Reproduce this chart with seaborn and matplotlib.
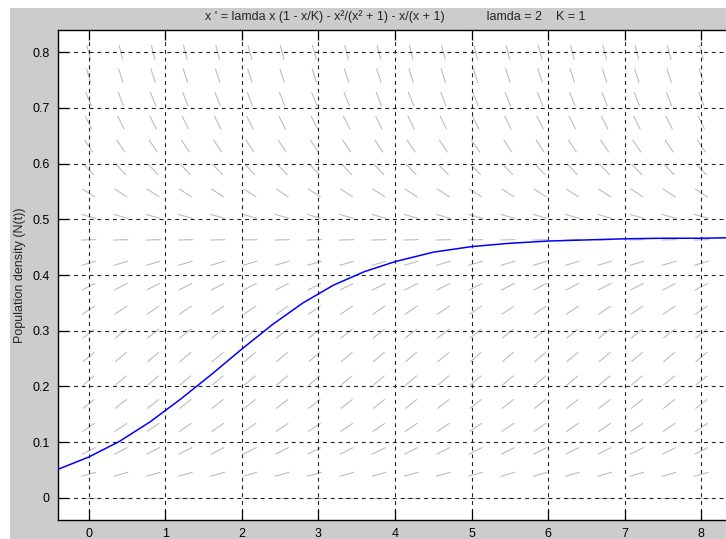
import numpy as np
import pandas as pd
import seaborn as sns
import matplotlib.pyplot as plt
from matplotlib.patches import Rectangle
from matplotlib.collections import LineCollection

# Model parameters (shown in the title)
lamda = 2.0
K = 1.0

# Direction-field window
t_window = [0.0, 8.0]
n_window = [0.0, 0.8]
grid_points = 20

# Solution curve read as (t, N) samples
sol_t = [-0.4, 0.0, 0.4, 0.8, 1.2, 1.6, 2.0, 2.4, 2.8, 3.2, 3.6, 4.0,
         4.5, 5.0, 5.5, 6.0, 6.5, 7.0, 7.5, 8.0, 8.4]
sol_n = [0.051, 0.073, 0.101, 0.136, 0.177, 0.221, 0.267, 0.311, 0.350,
         0.382, 0.406, 0.424, 0.441, 0.451, 0.457, 0.461, 0.463, 0.465,
         0.466, 0.466, 0.467]

x_ticks = [0, 1, 2, 3, 4, 5, 6, 7, 8]
y_ticks = [0, 0.1, 0.2, 0.3, 0.4, 0.5, 0.6, 0.7, 0.8]
y_tick_labels = ["0", "0.1", "0.2", "0.3", "0.4", "0.5", "0.6", "0.7", "0.8"]

title_text = ("x ' = lamda x (1 - x/K) - x\u00b2/(x\u00b2 + 1) - x/(x + 1)"
              "            lamda = 2    K = 1")
y_label = "Population density (N(t))"


def rhs(n):
    return lamda * n * (1 - n / K) - n**2 / (n**2 + 1) - n / (n + 1)


sns.set_style("ticks")
plt.rcParams["font.family"] = ["Liberation Sans", "DejaVu Sans"]

W, H, DPI = 726, 539, 100
fig = plt.figure(figsize=(W / DPI, H / DPI), dpi=DPI, facecolor="white")
fig.add_artist(Rectangle((10 / W, 0), 1 - 10 / W, 1 - 8 / H,
                         transform=fig.transFigure, facecolor="#cccccc",
                         edgecolor="none", zorder=-5))

ax_l, ax_r, ax_t, ax_b = 58, 732, 30, 520
ax = fig.add_axes([ax_l / W, 1 - ax_b / H, (ax_r - ax_l) / W, (ax_b - ax_t) / H])
ax.set_facecolor("white")

xmin, xmax = -0.4, 8.4
ymin, ymax = -0.04, 0.84
ax.set_xlim(xmin, xmax)
ax.set_ylim(ymin, ymax)

# slope field segments of constant on-screen length
sx = (ax_r - ax_l) / (xmax - xmin)
sy = (ax_b - ax_t) / (ymax - ymin)
seg_px = 15.0
tg = np.linspace(t_window[0], t_window[1], grid_points)
ng = np.linspace(n_window[0], n_window[1], grid_points)
segs = []
for n in ng:
    s = rhs(n)
    px, py = sx, s * sy
    norm = np.hypot(px, py)
    hx = 0.5 * seg_px * px / norm / sx
    hy = 0.5 * seg_px * py / norm / sy
    for t in tg:
        segs.append([(t - hx, n - hy), (t + hx, n + hy)])
ax.add_collection(LineCollection(segs, colors="#bdbdbd", linewidths=0.8, zorder=1))

df = pd.DataFrame({"t": sol_t, "N": sol_n})
sns.lineplot(data=df, x="t", y="N", ax=ax, color="#0000ff", linewidth=1.1,
             sort=False, estimator=None, zorder=4)

ax.set_xticks(x_ticks)
ax.set_yticks(y_ticks)
ax.set_yticklabels(y_tick_labels)
ax.tick_params(axis="both", direction="in", length=7, width=0.9, color="black",
               labelsize=9, labelcolor="black", pad=6)
ax.tick_params(axis="x", top=True, bottom=True)
ax.tick_params(axis="y", left=True, right=False)

ax.set_axisbelow(False)
ax.grid(True, color="#222222", linestyle=(0, (3.5, 3.5)), linewidth=0.8)

for side in ["left", "top", "bottom"]:
    ax.spines[side].set_color("black")
    ax.spines[side].set_linewidth(1.0)
ax.spines["right"].set_visible(False)

ax.set_xlabel("")
ax.set_ylabel("")
fig.text(20 / W, 1 - 275 / H, y_label, rotation=90, ha="center", va="center",
         fontsize=9)
fig.text((ax_l + ax_r) / 2 / W, 1 - 17 / H, title_text, ha="center",
         va="center", fontsize=9)

fig.savefig("out.png", dpi=DPI, facecolor=fig.get_facecolor())
